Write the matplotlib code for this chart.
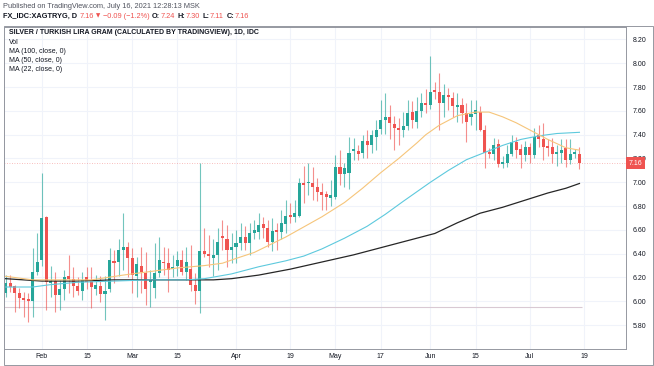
import matplotlib
matplotlib.use("Agg")
import matplotlib.pyplot as plt
import matplotlib.transforms as mtransforms
from matplotlib.patches import Rectangle
import pandas as pd

# daily candles, trading days 2021-01-20 .. 2021-07-16
dates = pd.bdate_range("2021-01-20", "2021-07-16")

opens = [6.07, 6.15, 6.13, 6.07, 6.03, 6.02, 6.00, 6.25, 6.35, 6.71,
         6.15, 6.17, 6.05, 6.10, 6.21, 6.19, 6.13, 6.09, 6.20, 6.17,
         6.10, 6.13, 6.06, 6.10, 6.34, 6.33, 6.43, 6.46, 6.36, 6.21,
         6.30, 6.24, 6.16, 6.11, 6.24, 6.33, 6.32, 6.27, 6.30, 6.35,
         6.25, 6.27, 6.14, 6.09, 6.42, 6.40, 6.36, 6.39, 6.55, 6.52,
         6.43, 6.46, 6.49, 6.54, 6.49, 6.57, 6.58, 6.65, 6.62, 6.50,
         6.60, 6.58, 6.65, 6.72, 6.71, 6.72, 6.99, 6.99, 6.99, 6.96,
         6.92, 6.90, 6.87, 6.88, 7.13, 7.07, 7.08, 7.26, 7.26, 7.25,
         7.35, 7.31, 7.38, 7.45, 7.52, 7.55, 7.49, 7.46, 7.44, 7.47,
         7.59, 7.51, 7.60, 7.67, 7.65, 7.77, 7.76, 7.67, 7.73, 7.71,
         7.63, 7.65, 7.58, 7.55, 7.57, 7.59, 7.44, 7.25, 7.24, 7.32,
         7.15, 7.16, 7.24, 7.34, 7.28, 7.23, 7.30, 7.23, 7.40, 7.36,
         7.30, 7.30, 7.24, 7.25, 7.29, 7.19, 7.24, 7.24]
highs = [6.22, 6.22, 6.14, 6.11, 6.08, 6.07, 6.45, 6.57, 7.08, 6.72,
         6.30, 6.25, 6.18, 6.26, 6.39, 6.29, 6.20, 6.25, 6.29, 6.29,
         6.22, 6.21, 6.21, 6.45, 6.43, 6.52, 6.74, 6.50, 6.45, 6.37,
         6.46, 6.41, 6.26, 6.49, 6.54, 6.46, 6.45, 6.39, 6.42, 6.43,
         6.46, 6.47, 6.24, 7.16, 6.62, 6.56, 6.52, 6.62, 6.68, 6.64,
         6.57, 6.60, 6.66, 6.63, 6.66, 6.68, 6.74, 6.71, 6.68, 6.70,
         6.66, 6.77, 6.85, 6.83, 6.85, 7.04, 7.14, 7.16, 7.13, 7.04,
         6.99, 6.93, 7.02, 7.23, 7.27, 7.16, 7.38, 7.37, 7.31, 7.40,
         7.44, 7.44, 7.52, 7.69, 7.75, 7.65, 7.56, 7.54, 7.59, 7.69,
         7.68, 7.72, 7.75, 7.78, 8.06, 7.84, 7.92, 7.83, 7.79, 7.76,
         7.75, 7.71, 7.67, 7.69, 7.69, 7.64, 7.48, 7.29, 7.37, 7.36,
         7.22, 7.31, 7.40, 7.38, 7.32, 7.35, 7.33, 7.46, 7.48, 7.50,
         7.36, 7.37, 7.31, 7.36, 7.36, 7.36, 7.28, 7.30]
lows = [6.04, 6.08, 5.91, 5.94, 5.87, 5.83, 5.87, 6.22, 6.30, 5.93,
        6.04, 5.91, 5.93, 6.01, 6.07, 6.04, 6.05, 6.01, 6.10, 5.94,
        6.05, 5.99, 5.84, 6.08, 6.15, 6.21, 6.26, 6.20, 6.07, 6.04,
        6.07, 5.97, 5.95, 6.03, 6.20, 6.22, 6.08, 6.20, 6.21, 6.22,
        6.18, 6.09, 5.98, 5.90, 6.37, 6.29, 6.21, 6.26, 6.43, 6.29,
        6.32, 6.32, 6.43, 6.43, 6.39, 6.52, 6.52, 6.53, 6.46, 6.42,
        6.43, 6.52, 6.57, 6.66, 6.67, 6.71, 6.83, 6.89, 6.85, 6.84,
        6.77, 6.77, 6.80, 6.86, 6.98, 6.96, 6.94, 7.19, 7.19, 7.20,
        7.20, 7.25, 7.27, 7.41, 7.41, 7.36, 7.27, 7.31, 7.38, 7.44,
        7.46, 7.46, 7.55, 7.58, 7.62, 7.70, 7.44, 7.55, 7.61, 7.55,
        7.51, 7.50, 7.34, 7.48, 7.44, 7.43, 7.12, 7.20, 7.19, 7.13,
        7.12, 7.13, 7.22, 7.20, 7.12, 7.18, 7.16, 7.20, 7.30, 7.19,
        7.22, 7.16, 7.14, 7.16, 7.13, 7.15, 7.20, 7.11]
closes = [6.15, 6.12, 6.07, 6.03, 6.01, 6.00, 6.25, 6.33, 6.70, 6.16,
          6.17, 6.05, 6.10, 6.20, 6.19, 6.13, 6.09, 6.18, 6.16, 6.12,
          6.14, 6.06, 6.09, 6.35, 6.32, 6.43, 6.46, 6.36, 6.22, 6.31,
          6.25, 6.10, 6.18, 6.24, 6.35, 6.32, 6.26, 6.29, 6.35, 6.25,
          6.33, 6.14, 6.09, 6.42, 6.40, 6.38, 6.39, 6.50, 6.53, 6.43,
          6.46, 6.49, 6.54, 6.49, 6.57, 6.60, 6.64, 6.62, 6.50, 6.59,
          6.58, 6.66, 6.72, 6.71, 6.74, 6.99, 6.98, 7.00, 6.96, 6.92,
          6.89, 6.88, 6.89, 7.13, 7.07, 7.12, 7.25, 7.28, 7.24, 7.35,
          7.31, 7.40, 7.44, 7.52, 7.55, 7.50, 7.46, 7.44, 7.47, 7.58,
          7.52, 7.60, 7.67, 7.65, 7.76, 7.76, 7.67, 7.73, 7.72, 7.64,
          7.65, 7.58, 7.51, 7.57, 7.61, 7.44, 7.25, 7.24, 7.31, 7.15,
          7.17, 7.24, 7.34, 7.27, 7.23, 7.30, 7.23, 7.38, 7.36, 7.30,
          7.29, 7.24, 7.25, 7.27, 7.19, 7.24, 7.25, 7.16]

# moving averages (trading-day index, value)
ma100_idx = [0, 8, 16, 24, 32, 40, 46, 50, 56, 63, 70, 77, 84, 91, 95,
             100, 105, 110, 115, 120, 124, 127]
ma100_val = [6.19, 6.17, 6.17, 6.18, 6.18, 6.18, 6.18, 6.19, 6.22, 6.27,
             6.33, 6.39, 6.46, 6.53, 6.57, 6.66, 6.74, 6.79, 6.85, 6.91,
             6.95, 6.99]
ma50_idx = [0, 6, 10, 16, 24, 32, 40, 44, 50, 56, 62, 66, 70, 75, 80,
            84, 88, 94, 98, 102, 106, 110, 114, 118, 122, 127]
ma50_val = [6.12, 6.12, 6.14, 6.16, 6.17, 6.18, 6.18, 6.19, 6.23, 6.29,
            6.34, 6.38, 6.44, 6.53, 6.63, 6.73, 6.84, 7.00, 7.10, 7.19,
            7.25, 7.31, 7.36, 7.39, 7.41, 7.42]
ma22_idx = [0, 6, 12, 19, 26, 32, 38, 44, 48, 51, 55, 62, 70, 75, 79,
            83, 87, 91, 93, 96, 100, 104, 107, 110, 113, 117, 120, 124, 127]
ma22_val = [6.21, 6.18, 6.18, 6.18, 6.22, 6.25, 6.28, 6.30, 6.32, 6.36,
            6.41, 6.54, 6.71, 6.83, 6.95, 7.08, 7.20, 7.33, 7.40, 7.48,
            7.56, 7.59, 7.59, 7.55, 7.50, 7.42, 7.36, 7.29, 7.27]

last_price = 7.16
low_level = 5.95
yticks = [5.8, 6.0, 6.2, 6.4, 6.6, 6.8, 7.0, 7.2, 7.4, 7.6, 7.8, 8.0, 8.2]
xtick_dates = ["2021-02-01", "2021-02-15", "2021-03-01", "2021-03-15",
               "2021-04-01", "2021-04-19", "2021-05-03", "2021-05-17",
               "2021-06-01", "2021-06-15", "2021-07-01", "2021-07-19"]
xtick_labels = ["Feb", "15", "Mar", "15", "Apr", "19", "May", "17",
                "Jun", "15", "Jul", "19"]

UP = "#26a69a"
DOWN = "#ef5350"
TXT = "#131722"
plt.rcParams["font.family"] = ["Liberation Sans", "DejaVu Sans"]

W, H = 654, 366
fig = plt.figure(figsize=(W / 100, H / 100), dpi=100)
ax = fig.add_axes([4 / W, 1 - 349 / H, (626 - 4) / W, (349 - 27) / H])

x = list(range(len(dates)))
colors = [UP if c >= o else DOWN for o, c in zip(opens, closes)]
ax.vlines(x, lows, highs, colors=colors, linewidth=0.8, alpha=0.65, zorder=3)
bottoms = [min(o, c) for o, c in zip(opens, closes)]
heights = [max(abs(c - o), 0.012) for o, c in zip(opens, closes)]
ax.bar(x, heights, bottom=bottoms, width=0.68, color=colors, linewidth=0, zorder=4)

ax.plot(ma100_idx, ma100_val, color="#262626", lw=0.9, zorder=5)
ax.plot(ma50_idx, ma50_val, color="#5dc9dd", lw=0.8, zorder=5)
ax.plot(ma22_idx, ma22_val, color="#f6c57a", lw=0.8, zorder=5)

ax.axhline(last_price, color=DOWN, lw=0.6, ls=(0, (1, 2)), alpha=0.5, zorder=2)
ax.hlines(low_level, -0.5, len(dates) - 0.5, color="#d9c9d3", lw=0.8, zorder=2)

# x positions for tick dates (trading-day index, extended past the last day)
ext = pd.bdate_range("2021-01-20", "2021-07-30")
xt = [ext.get_loc(pd.Timestamp(d)) for d in xtick_dates]
ax.set_xticks(xt)
ax.set_xticklabels(xtick_labels)
ax.set_yticks(yticks)
ax.set_yticklabels([f"{v:.2f}" for v in yticks])
ax.yaxis.tick_right()
ax.tick_params(axis="both", length=0, labelsize=5, colors=TXT)
ax.tick_params(axis="y", pad=5)
ax.tick_params(axis="x", pad=3)
ax.set_xlim(-0.35, 137.3)
ax.set_ylim(5.599, 8.305)
ax.grid(True, color="#f0f3fa", lw=0.8, zorder=0)
ax.set_axisbelow(True)
for s in ["left", "right", "top", "bottom"]:
    ax.spines[s].set_color("#9598a1")
    ax.spines[s].set_linewidth(0.7)

# last price tag on the scale
tr = mtransforms.blended_transform_factory(ax.transAxes, ax.transData)
ax.text(1.004, last_price, f"{last_price:.2f}", transform=tr, fontsize=5,
        color="white", va="center", ha="left", zorder=10, clip_on=False,
        bbox=dict(boxstyle="square,pad=0.35", fc=DOWN, ec="none"))

# outer frame
fig.patches.append(Rectangle((4 / W, 1 / H), 649 / W, (H - 27) / H,
                             transform=fig.transFigure, fill=False,
                             ec="#9598a1", lw=0.7))

# header
fig.text(3 / W, 1 - 6 / H, "Published on TradingView.com, July 16, 2021 12:28:13 MSK",
         fontsize=5.3, color="#50535e", va="center")
renderer = fig.canvas.get_renderer()
hy = 1 - 16 / H
parts = [("FX_IDC:XAGTRYG, D", TXT, "bold", 3), ("7.16", DOWN, "normal", 2),
         ("\u25bc", DOWN, "normal", 2), ("\u22120.09 (\u22121.2%)", DOWN, "normal", 3),
         ("O:", TXT, "bold", 0), ("7.24", DOWN, "normal", 3),
         ("H:", TXT, "bold", 0), ("7.30", DOWN, "normal", 3),
         ("L:", TXT, "bold", 0), ("7.11", DOWN, "normal", 3),
         ("C:", TXT, "bold", 0), ("7.16", DOWN, "normal", 0)]
px = 3
for s, c, w, gap in parts:
    t = fig.text(px / W, hy, s, fontsize=5.3 if s != "\u25bc" else 4,
                 color=c, fontweight=w, va="center",
                 family=["DejaVu Sans"] if s == "\u25bc" else ["Liberation Sans", "DejaVu Sans"])
    px += t.get_window_extent(renderer).width + gap

# legend block
legend_lines = [("SILVER / TURKISH LIRA GRAM (CALCULATED BY TRADINGVIEW), 1D, IDC", "bold", 33),
                ("Vol", "normal", 42),
                ("MA (100, close, 0)", "normal", 51.5),
                ("MA (50, close, 0)", "normal", 60.5),
                ("MA (22, close, 0)", "normal", 69.5)]
for s, w, py in legend_lines:
    fig.text(9 / W, 1 - py / H, s, fontsize=5, color=TXT, fontweight=w, va="center")

fig.savefig("out.png", dpi=100, facecolor="white")
